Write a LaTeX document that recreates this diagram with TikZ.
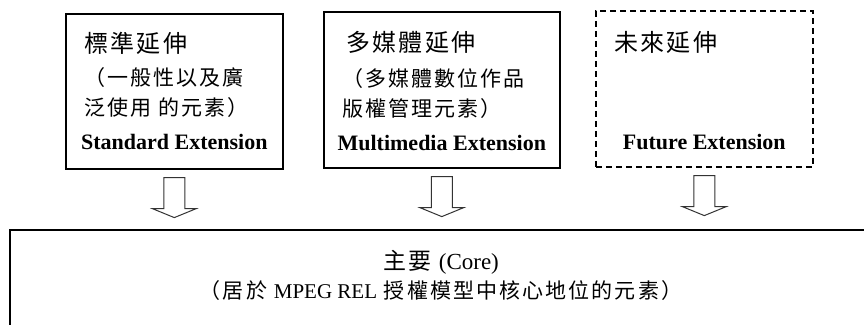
\documentclass[tikz,border=0pt]{standalone}
\usepackage{fontspec}
\setmainfont{Liberation Serif}
\newfontfamily\cjk[LetterSpace=10]{Noto Sans CJK TC}
\usetikzlibrary{calc}

\begin{document}
\begin{tikzpicture}[x=1pt,y=-1pt,
  box/.style={draw,line width=1.6pt,inner sep=0pt,anchor=north west},
  ttl/.style={font=\cjk\fontsize{24}{28}\selectfont,inner sep=0pt,anchor=base west},
  txt/.style={font=\cjk\fontsize{21}{25}\selectfont,inner sep=0pt,anchor=base west},
  eng/.style={font=\bfseries\fontsize{22}{26}\selectfont,inner sep=0pt,anchor=base},
  blockarrow/.style={draw=black!80,line width=1pt,fill=white,line join=miter}]

\useasboundingbox (0,0) rectangle (864,324);

\node[box,minimum width=217pt,minimum height=155pt] (std) at (65,13) {};
\node[box,minimum width=236pt,minimum height=156pt] (mm) at (323,11) {};
\node[box,minimum width=217pt,minimum height=156pt,dash pattern=on 6pt off 4pt] (fut) at (595,10) {};

\begin{scope}
\clip (0,0) rectangle (864,324);
\node[box,line width=2pt,minimum width=862pt,minimum height=130pt] (core) at (9,229) {};
\end{scope}

% standard
\node[ttl] (stdttl) at ($(std.north west)+(19,39)$) {標準延伸};
\node[txt] (stdone) at ($(std.north west)+(19,72)$) {（一般性以及廣};
\node[txt] (stdtwo) at ($(std.north west)+(19,102)$) {泛使用 的元素）};
\node[eng] (stdeng) at ($(std.north)+(0,136)$) {Standard Extension};

% multimedia
\node[ttl] (mmttl) at ($(mm.north west)+(23,40)$) {多媒體延伸};
\node[txt] (mmone) at ($(mm.north west)+(19,75)$) {（多媒體數位作品};
\node[txt] (mmtwo) at ($(mm.north west)+(19,105)$) {版權管理元素）};
\node[eng] (mmeng) at ($(mm.north)+(0,139)$) {Multimedia Extension};

% future
\node[ttl] (futttl) at ($(fut.north west)+(19,41)$) {未來延伸};
\node[eng] (futeng) at ($(fut.north)+(0,139)$) {Future Extension};

\foreach \b in {std,mm,fut}
  \draw[blockarrow] ($(\b.south)+(-10.5,8)$) -- ++(21,0) -- ++(0,31) -- ++(11.5,0)
    -- ++(-22,9) -- ++(-22,-9) -- ++(11.5,0) -- cycle;

% core
\node[font=\cjk\fontsize{23}{27}\selectfont,inner sep=0pt,anchor=base] (corettl)
  at ($(core.north)+(0,40)$) {主要 {\rmfamily (Core)}};
\node[font=\cjk\fontsize{21}{25}\selectfont,inner sep=0pt,anchor=base] (coretxt)
  at ($(core.north)+(0,69)$) {（居於 {\rmfamily MPEG REL} 授權模型中核心地位的元素）};

\end{tikzpicture}
\end{document}
